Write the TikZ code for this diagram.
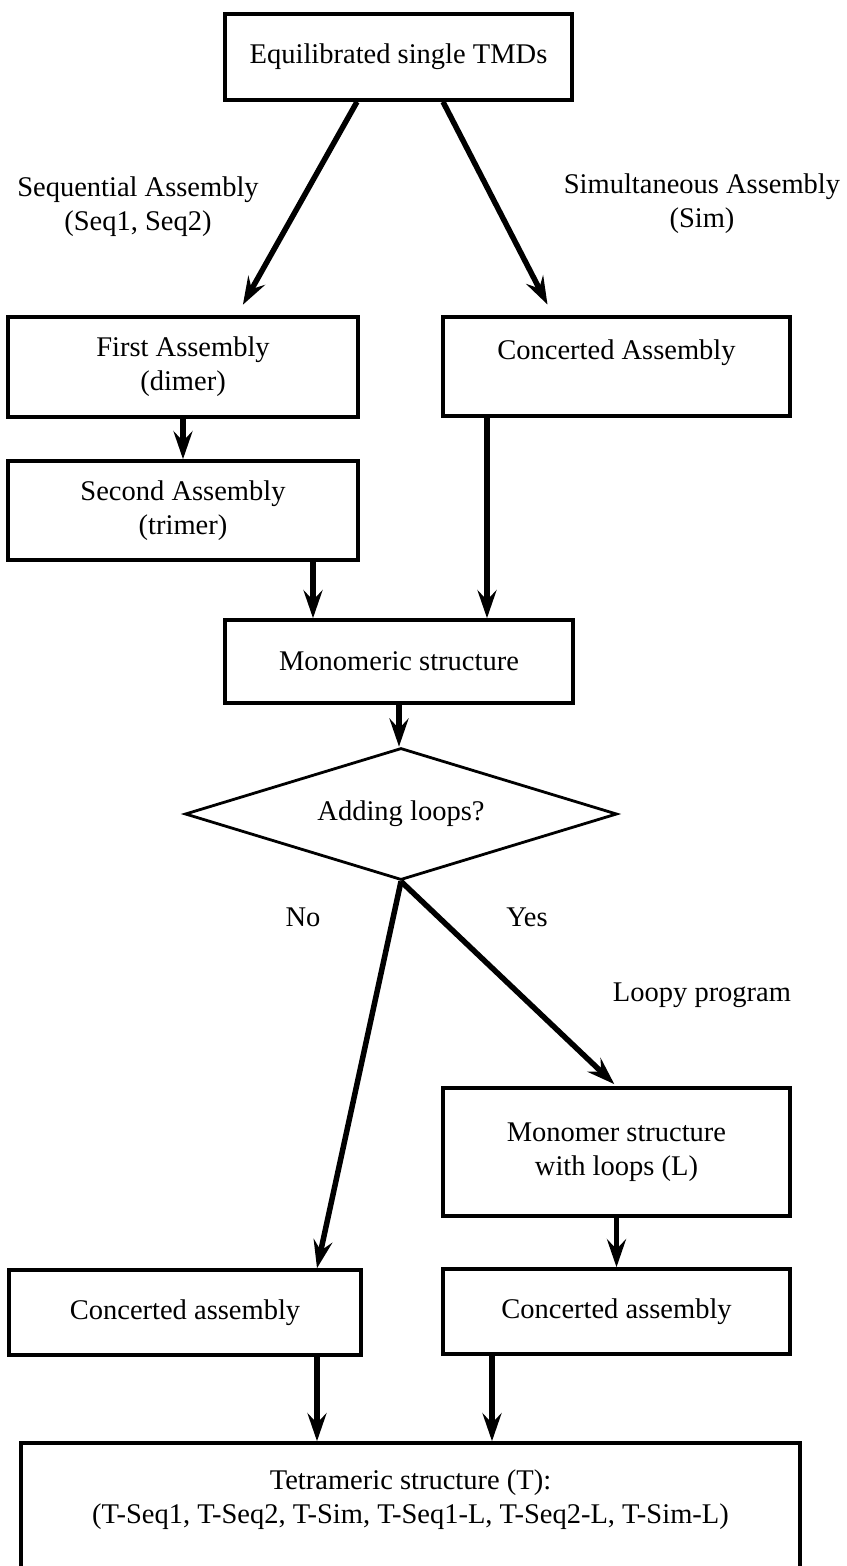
\documentclass[tikz,border=0pt]{standalone}
\usepackage{fontspec}
\setmainfont{Liberation Serif}
\usetikzlibrary{arrows.meta,shapes.geometric}
\begin{document}
\begin{tikzpicture}[
      x=1pt, y=-1pt,
      every node/.style={font=\fontsize{28.5}{34}\selectfont},
      box/.style={draw, line width=3.6pt, align=center, inner sep=0pt},
      decision/.style={draw, diamond, line width=2.8pt, inner sep=0pt, aspect=3.3},
      label/.style={align=center},
      arr/.style={line width=5.5pt, -{Stealth[length=28pt, width=19pt, inset=10pt]}}
    ]
    \useasboundingbox (0,0) rectangle (846,1566);

    % Start
    \node[box, minimum width=347, minimum height=86] (top) at (398.5,57) {Equilibrated single TMDs};

    % Two ways of assembly
    \node[label] (seqlab) at (138,207) {Sequential Assembly\\(Seq1, Seq2)};
    \node[label] (simlab) at (702,204) {Simultaneous Assembly\\(Sim)};

    \node[box, minimum width=350, minimum height=100] (first) at (183,367) {First Assembly\\(dimer)};
    \node[box, minimum width=347, minimum height=99] (conc) at (616.5,366.5) {Concerted Assembly\\ \mbox{}};
    \node[box, minimum width=350, minimum height=99] (second) at (183,510.5) {Second Assembly\\(trimer)};

    % Monomer and decision
    \node[box, minimum width=348, minimum height=83] (mono) at (399,661.5) {Monomeric structure};
    \node[decision, minimum width=432, minimum height=132] (dia) at (401,814) {Adding loops?};

    \node[label] (nolab) at (303,917) {No};
    \node[label] (yeslab) at (527,917) {Yes};
    \node[label] (looplab) at (702,995) {Loopy program};

    \node[box, minimum width=347, minimum height=128] (loops) at (616.5,1152) {Monomer structure\\with loops (L)};
    \node[box, minimum width=352, minimum height=85] (concl) at (185,1312.5) {Concerted assembly};
    \node[box, minimum width=347, minimum height=85] (concr) at (616.5,1311.5) {Concerted assembly};

    % Final box, its bottom runs off the page
    \node[box, minimum width=779, minimum height=175] (tetra) at (410.5,1530.5)
      {Tetrameric structure (T):\\(T-Seq1, T-Seq2, T-Sim, T-Seq1-L, T-Seq2-L, T-Sim-L)\\ \mbox{}\\ \mbox{}};

    % Arrows
    \draw[arr, shorten >=12pt] ([xshift=-41.5pt]top.south) -- ([xshift=54pt]first.north);
    \draw[arr, shorten >=12pt] ([xshift=44.5pt]top.south) -- ([xshift=-63.5pt]conc.north);
    \draw[arr] (first) -- (second);
    \draw[arr] ([xshift=130pt]second.south) -- ([xshift=130pt]second.south |- mono.north);
    \draw[arr] ([xshift=-129.5pt]conc.south) -- ([xshift=-129.5pt]conc.south |- mono.north);
    \draw[arr] (mono) -- (mono.south |- dia.north);
    \draw[arr] (dia.south) -- ([xshift=132pt]concl.north);
    \draw[arr, shorten >=3pt] (dia.south) -- (loops.north);
    \draw[arr] (loops) -- (concr);
    \draw[arr] ([xshift=132pt]concl.south) -- ([xshift=132pt]concl.south |- tetra.north);
    \draw[arr] ([xshift=-124.5pt]concr.south) -- ([xshift=-124.5pt]concr.south |- tetra.north);
  \end{tikzpicture}
\end{document}
